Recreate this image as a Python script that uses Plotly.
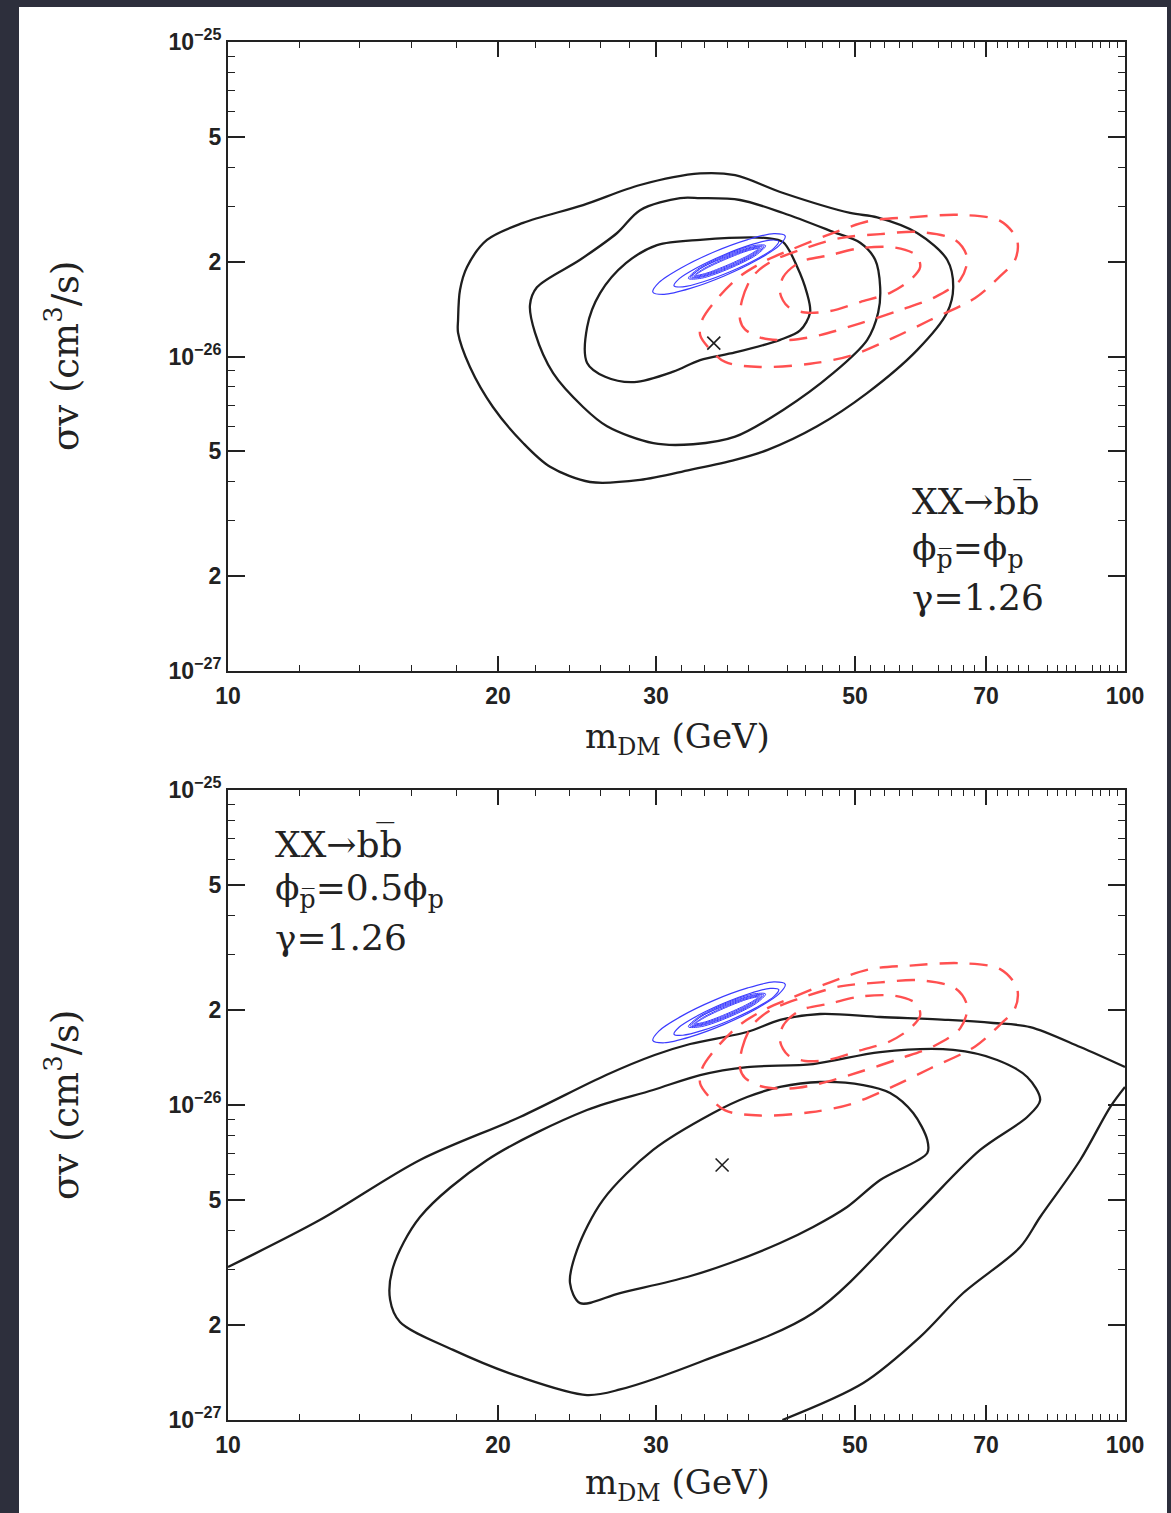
import plotly.graph_objects as go

# ---------------- data (m_DM in GeV, sigma v in units of 1e-26 cm^3/s) ----------------
# Top panel: phi_pbar = phi_p  -- black likelihood contours (closed)
top_in_m = [25.14, 25.99, 27.77, 30.08, 33.60, 39.90, 41.58, 43.10, 44.20, 44.56, 43.43, 41.26,
            36.76, 33.60, 31.36, 28.36, 26.33, 25.14]
top_in_sv = [1.24, 1.59, 1.98, 2.26, 2.35, 2.38, 2.31, 1.93, 1.59, 1.38, 1.21, 1.13,
             1.03, 0.974, 0.895, 0.829, 0.862, 0.954]
top_mid_m = [21.71, 22.10, 24.69, 27.15, 28.80, 31.92, 33.60, 37.23, 41.58, 47.27, 50.67, 52.66,
             53.34, 53.07, 51.58, 47.27, 41.58, 36.76, 33.00, 29.80, 26.46, 24.88, 23.04, 21.99]
top_mid_sv = [1.458, 1.66, 2.03, 2.47, 2.92, 3.19, 3.19, 3.145, 2.86, 2.49, 2.30, 2.03,
              1.66, 1.38, 1.128, 0.885, 0.676, 0.556, 0.526, 0.530, 0.600, 0.691, 0.885, 1.191]
top_out_m = [18.05, 18.14, 18.47, 19.44, 21.33, 24.88, 28.80, 33.60, 36.76, 41.58, 49.38, 52.93,
             58.65, 63.35, 64.34, 63.35, 58.65, 51.58, 45.37, 39.90, 36.76, 32.75, 28.80, 25.33,
             22.86, 21.33, 19.74, 18.61, 18.05]
top_out_sv = [1.306, 1.627, 1.926, 2.347, 2.66, 3.03, 3.51, 3.82, 3.77, 3.31, 2.86, 2.77,
              2.47, 2.03, 1.66, 1.38, 1.048, 0.765, 0.600, 0.504, 0.469, 0.436, 0.405, 0.399,
              0.446, 0.531, 0.691, 0.926, 1.19]
top_best = (34.8, 1.103)

# Bottom panel: phi_pbar = 0.5 phi_p -- black likelihood contours
bot_in_m = [24.69, 24.06, 24.50, 26.19, 29.78, 34.74, 37.91, 41.26, 45.72, 51.07, 54.72, 58.06,
            60.20, 60.20, 53.34, 49.00, 44.91, 41.26, 36.29, 32.50, 27.36]
bot_in_sv = [0.235, 0.272, 0.347, 0.50, 0.720, 0.943, 1.060, 1.141, 1.183, 1.157, 1.092, 0.943,
             0.774, 0.704, 0.578, 0.4745, 0.410, 0.3646, 0.315, 0.2844, 0.253]
bot_mid_m = [15.28, 16.37, 19.45, 25.13, 29.78, 33.60, 37.91, 44.91, 53.34, 64.34, 72.03, 77.80,
             80.43, 77.80, 68.95, 58.06, 44.91, 33.60, 27.36, 25.13, 21.16, 17.82, 15.55, 15.16]
bot_mid_sv = [0.306, 0.441, 0.669, 0.964, 1.116, 1.245, 1.320, 1.349, 1.473, 1.496, 1.390, 1.227,
              1.037, 0.916, 0.720, 0.441, 0.2186, 0.1528, 0.125, 0.120, 0.137, 0.167, 0.2047, 0.241]
bot_out_upper_m = [10.0, 12.67, 16.37, 21.16, 26.40, 29.90, 32.75, 37.91, 41.26, 45.72, 53.34,
                   63.51, 71.29, 78.40, 89.14, 100.0]
bot_out_upper_sv = [0.306, 0.432, 0.669, 0.916, 1.245, 1.441, 1.562, 1.705, 1.862, 1.945, 1.903,
                    1.862, 1.821, 1.768, 1.528, 1.320]
bot_out_lower_m = [41.5, 51.07, 59.11, 66.01, 76.41, 80.43, 89.14, 96.27, 100.0]
bot_out_lower_sv = [0.100, 0.131, 0.1835, 0.253, 0.354, 0.441, 0.669, 0.985, 1.141]
bot_best = (35.55, 0.645)

# Red dashed contours (same in both panels)
red_out_m = [33.60, 33.77, 35.00, 37.23, 39.90, 42.33, 46.91, 51.98, 57.61, 65.50, 72.58, 75.80,
             75.40, 72.58, 68.07, 60.64, 55.15, 49.38, 44.56, 39.19, 35.83, 34.30]
red_out_sv = [1.17, 1.306, 1.512, 1.80, 2.027, 2.18, 2.45, 2.70, 2.77, 2.82, 2.70, 2.347,
              2.027, 1.80, 1.535, 1.306, 1.146, 1.005, 0.948, 0.926, 0.961, 1.07]
red_mid_m = [37.23, 37.42, 38.39, 40.21, 43.43, 48.13, 53.34, 58.86, 64.67, 66.69, 65.50, 61.42,
             56.15, 50.67, 45.72, 42.33, 39.39, 37.70]
red_mid_sv = [1.306, 1.512, 1.787, 1.996, 2.181, 2.38, 2.45, 2.49, 2.347, 2.06, 1.751, 1.545,
              1.405, 1.275, 1.17, 1.128, 1.145, 1.22]
red_in_m = [41.26, 41.58, 43.43, 46.91, 50.67, 55.43, 58.50, 59.11, 57.61, 54.72, 50.67, 46.91,
            44.00, 42.10]
red_in_sv = [1.59, 1.787, 1.996, 2.10, 2.21, 2.22, 2.10, 1.926, 1.751, 1.594, 1.49, 1.395,
             1.38, 1.44]

# Blue contours (same in both panels)
blue_1_m = [41.80, 41.14, 38.84, 35.74, 32.76, 30.64, 29.76, 30.24, 32.03, 34.81, 37.97, 40.60]
blue_1_sv = [2.418, 2.252, 2.022, 1.803, 1.646, 1.576, 1.602, 1.720, 1.915, 2.149, 2.353, 2.459]
blue_2_m = [41.11, 40.59, 38.77, 36.28, 33.88, 32.14, 31.42, 31.85, 33.36, 35.64, 38.16, 40.22]
blue_2_sv = [2.326, 2.208, 2.034, 1.859, 1.728, 1.665, 1.678, 1.768, 1.919, 2.099, 2.259, 2.345]
blue_3_m = [39.75, 38.82, 36.25, 33.73, 32.60, 33.39, 35.76, 38.42]
blue_3_sv = [2.252, 2.104, 1.906, 1.774, 1.771, 1.896, 2.093, 2.249]
blue_4_m = [39.57, 38.66, 36.22, 33.81, 32.75, 33.53, 35.79, 38.33]
blue_4_sv = [2.239, 2.106, 1.919, 1.792, 1.782, 1.894, 2.080, 2.226]
blue_5_m = [39.39, 38.50, 36.19, 33.91, 32.90, 33.67, 35.82, 38.22]
blue_5_sv = [2.228, 2.106, 1.931, 1.806, 1.791, 1.908, 2.066, 2.209]
blue_6_m = [39.20, 38.34, 36.14, 34.00, 33.06, 33.81, 35.85, 38.13]
blue_6_sv = [2.214, 2.108, 1.944, 1.822, 1.801, 1.893, 2.052, 2.190]
blue_7_m = [39.02, 38.18, 36.11, 34.09, 33.21, 33.95, 35.89, 38.02]
blue_7_sv = [2.202, 2.110, 1.957, 1.838, 1.812, 1.891, 2.039, 2.171]

# Axis ticks
x_labelled = [10, 20, 30, 50, 70, 100]
x_labelled_text = ["10", "20", "30", "50", "70", "100"]
x_major_unlabelled = [40, 60, 80, 90]
x_minor = [v for v in range(12, 100, 2) if v % 10 != 0]
y_major = [1e-27, 2e-27, 5e-27, 1e-26, 2e-26, 5e-26, 1e-25]
y_major_text = ["10<sup>\u221227</sup>", "2", "5", "10<sup>\u221226</sup>", "2", "5", "10<sup>\u221225</sup>"]
y_minor = [k * 1e-27 for k in (3, 4, 6, 7, 8, 9)] + [k * 1e-26 for k in (3, 4, 6, 7, 8, 9)]

UNIT = 1e-26
BLACK = "#1e1e1e"
RED = "#ff5050"
BLUE = "#3b3bff"

fig = go.Figure()


def closed(seq):
    return list(seq) + [seq[0]]


def add_line(m, sv, xa, ya, color, width, dash="solid"):
    fig.add_trace(go.Scatter(
        x=m, y=[v * UNIT for v in sv], xaxis=xa, yaxis=ya, mode="lines",
        line=dict(color=color, width=width, dash=dash, shape="spline", smoothing=0.9),
        hoverinfo="skip", showlegend=False))


blues = [(blue_1_m, blue_1_sv), (blue_2_m, blue_2_sv), (blue_3_m, blue_3_sv),
         (blue_4_m, blue_4_sv), (blue_5_m, blue_5_sv), (blue_6_m, blue_6_sv),
         (blue_7_m, blue_7_sv)]
reds = [(red_out_m, red_out_sv), (red_mid_m, red_mid_sv), (red_in_m, red_in_sv)]

panels = [
    ("x", "y",
     [(top_in_m, top_in_sv), (top_mid_m, top_mid_sv), (top_out_m, top_out_sv)], [], top_best),
    ("x2", "y2",
     [(bot_in_m, bot_in_sv), (bot_mid_m, bot_mid_sv)],
     [(bot_out_upper_m, bot_out_upper_sv), (bot_out_lower_m, bot_out_lower_sv)], bot_best),
]

for xa, ya, closed_blacks, open_blacks, best in panels:
    for m, sv in closed_blacks:
        add_line(closed(m), closed(sv), xa, ya, BLACK, 2.3)
    for m, sv in open_blacks:
        add_line(m, sv, xa, ya, BLACK, 2.3)
    for m, sv in reds:
        add_line(closed(m), closed(sv), xa, ya, RED, 2.4, dash="18px,12px")
    for i, (m, sv) in enumerate(blues):
        add_line(closed(m), closed(sv), xa, ya, BLUE, 1.2 if i < 2 else 1.0)
    fig.add_trace(go.Scatter(
        x=[best[0]], y=[best[1] * UNIT], xaxis=xa, yaxis=ya, mode="markers",
        marker=dict(symbol="x-thin", size=13, line=dict(color=BLACK, width=1.6)),
        hoverinfo="skip", showlegend=False))

tickfont = dict(family="Liberation Sans", size=23, color="#222", weight="bold")
xaxis_common = dict(
    type="log", range=[1, 2], tickmode="array", tickvals=x_labelled, ticktext=x_labelled_text,
    ticks="inside", ticklen=15, tickwidth=1.6, tickcolor="#222",
    showline=True, linewidth=2, linecolor="#222", mirror="allticks",
    showgrid=False, zeroline=False, tickfont=tickfont, ticklabelstandoff=3,
    minor=dict(tickmode="array", tickvals=x_minor, ticks="inside", ticklen=6,
               tickwidth=1.3, tickcolor="#222", showgrid=False),
    fixedrange=True,
)
xaxis_extra = dict(
    type="log", range=[1, 2], tickmode="array", tickvals=x_major_unlabelled,
    showticklabels=False, ticks="inside", ticklen=15, tickwidth=1.6, tickcolor="#222",
    showline=True, linewidth=2, linecolor="#222", mirror="allticks",
    showgrid=False, zeroline=False, fixedrange=True,
)
yaxis_common = dict(
    type="log", range=[-27, -25], tickmode="array", tickvals=y_major, ticktext=y_major_text,
    ticks="inside", ticklen=17, tickwidth=1.6, tickcolor="#222",
    showline=True, linewidth=2, linecolor="#222", mirror="allticks",
    showgrid=False, zeroline=False, tickfont=tickfont, ticklabelstandoff=0,
    minor=dict(tickmode="array", tickvals=y_minor, ticks="inside", ticklen=7,
               tickwidth=1.3, tickcolor="#222", showgrid=False),
    fixedrange=True,
)

# plot area: x 228..1125 px, y 42..1420 px
L, R, T, B = 228, 1125, 42, 1420
W, H = R - L, B - T


def px(x):
    return (x - L) / W


def py(y):
    return (B - y) / H


fig.update_layout(
    width=1171, height=1513,
    margin=dict(l=L, r=1171 - R, t=T, b=1513 - B, pad=0),
    paper_bgcolor="#2d2f3c", plot_bgcolor="white",
    xaxis=dict(xaxis_common, domain=[0, 1], anchor="y"),
    yaxis=dict(yaxis_common, domain=[py(671), 1], anchor="x"),
    xaxis2=dict(xaxis_common, domain=[0, 1], anchor="y2"),
    yaxis2=dict(yaxis_common, domain=[0, py(790)], anchor="x2"),
    xaxis3=dict(xaxis_extra, overlaying="x", anchor="y"),
    xaxis4=dict(xaxis_extra, overlaying="x2", anchor="y2"),
    showlegend=False,
)

# white page behind the figure (dark frame on left/top/right)
fig.add_shape(type="rect", xref="paper", yref="paper", layer="below",
              x0=px(19), x1=px(1167), y0=py(1513), y1=py(7),
              fillcolor="white", line=dict(width=0))

serif = "DejaVu Serif"
xtitle_font = dict(family=serif, size=34, color="#222")
ytitle_font = dict(family=serif, size=37, color="#222")
label_font = dict(family=serif, size=36, color="#222")

annotations = [
    # axis titles
    dict(text="m<sub>DM</sub> (GeV)", x=px(677), y=py(738), font=xtitle_font),
    dict(text="m<sub>DM</sub> (GeV)", x=px(677), y=py(1484), font=xtitle_font),
    dict(text="\u03c3v (cm<sup>3</sup>/s)", x=px(62), y=py(356), textangle=-90, font=ytitle_font),
    dict(text="\u03c3v (cm<sup>3</sup>/s)", x=px(62), y=py(1105), textangle=-90, font=ytitle_font),
    # panel labels (top)
    dict(text="XX\u2192bb\u0305", x=px(910), y=py(500), xanchor="left", font=label_font),
    dict(text="\u03d5<sub>p\u0305</sub>=\u03d5<sub>p</sub>", x=px(910), y=py(550), xanchor="left", font=label_font),
    dict(text="\u03b3=1.26", x=px(910), y=py(597), xanchor="left", font=label_font),
    # panel labels (bottom)
    dict(text="XX\u2192bb\u0305", x=px(273), y=py(843), xanchor="left", font=label_font),
    dict(text="\u03d5<sub>p\u0305</sub>=0.5\u03d5<sub>p</sub>", x=px(273), y=py(890), xanchor="left", font=label_font),
    dict(text="\u03b3=1.26", x=px(273), y=py(937), xanchor="left", font=label_font),
]
for a in annotations:
    a.setdefault("xanchor", "center")
    fig.add_annotation(xref="paper", yref="paper", showarrow=False, yanchor="middle", **a)

fig.write_html(
    "out.html",
    config={"displayModeBar": False},
    post_script="document.body.style.margin='0';document.body.style.background='#2d2f3c';",
)
